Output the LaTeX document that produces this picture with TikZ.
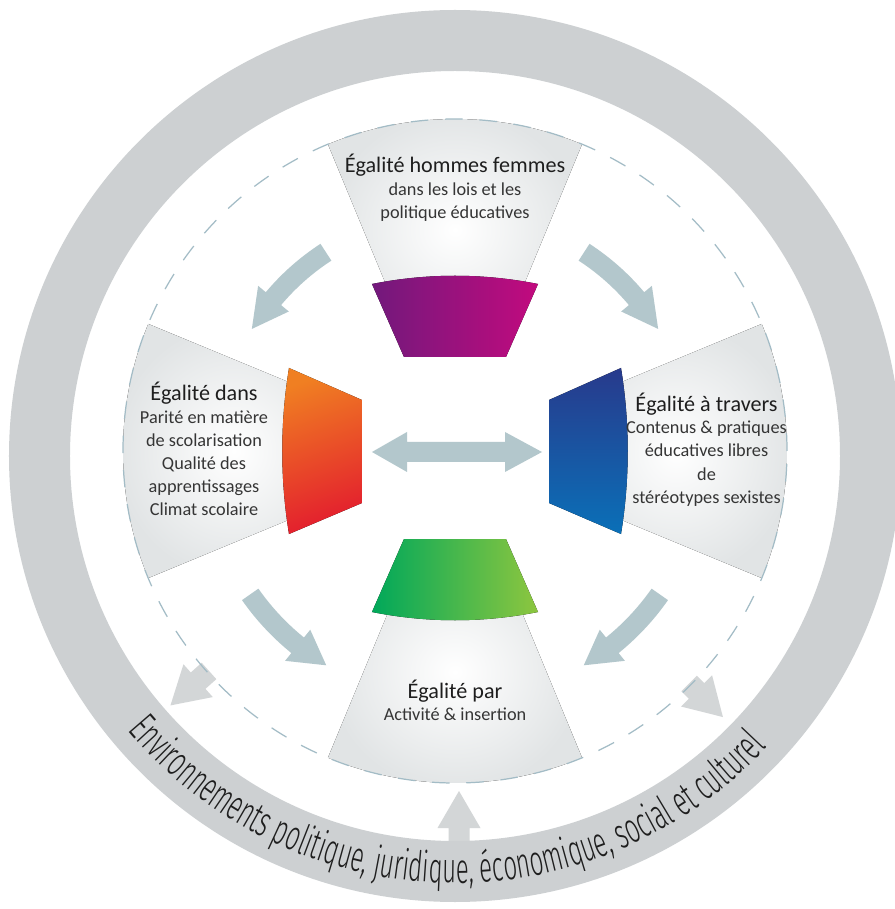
\documentclass[tikz,border=0pt]{standalone}
\usepackage{fontspec}
\setmainfont{Carlito}
\newfontfamily\ringfont[FakeStretch=0.57]{Fira Sans Light}
\usetikzlibrary{positioning,decorations.text}
\definecolor{ringgray}{HTML}{CDD0D2}
\definecolor{sectgray}{HTML}{E1E4E5}
\definecolor{dashblue}{HTML}{A3BCC6}
\definecolor{flowblue}{HTML}{B3C7CC}
\definecolor{envgray}{HTML}{D3D6D7}
\definecolor{purpleA}{HTML}{72197C}
\definecolor{purpleB}{HTML}{C20A7E}
\definecolor{orangeA}{HTML}{F07F22}
\definecolor{redA}{HTML}{E31E2E}
\definecolor{blueA}{HTML}{283A8C}
\definecolor{blueM}{HTML}{0052A3}
\definecolor{blueB}{HTML}{0A70B8}
\definecolor{greenA}{HTML}{00A85A}
\definecolor{greenB}{HTML}{8DC63F}
\definecolor{textdark}{HTML}{1E1E1E}
\tikzset{
  ringband/.style = {fill=ringgray, even odd rule},
  sectbox/.style  = {inner color=white, outer color=sectgray},
  dashring/.style = {draw=dashblue, line width=0.7pt, dash pattern=on 10pt off 9.5pt},
  flowarr/.style  = {fill=flowblue},
  envarr/.style   = {fill=envgray},
  titlelab/.style = {font=\fontsize{12.6}{15}\selectfont, text=textdark,
                     inner sep=0pt, anchor=base},
  bodylab/.style  = {font=\fontsize{10.4}{13.2}\selectfont, text=textdark!90,
                     inner sep=0pt, align=center},
}
% curved arrow round the centre: radius, tail angle, head angle, tip angle
\newcommand{\bentarrow}[4]{%
  \fill[flowarr] (#2:{#1+10}) arc[start angle=#2, end angle=#3, radius={#1+10}]
    -- (#3:{#1+20}) -- (#4:#1) -- (#3:{#1-20}) -- (#3:{#1-10})
    arc[start angle=#3, end angle=#2, radius={#1-10}] -- cycle;}
% straight arrow pointing out to the ring: angle, shaft start, head base, tip
\newcommand{\envarrow}[4]{%
  \fill[envarr, rotate=#1] (#2,-11) -- (#3,-11) -- (#3,-22) -- (#4,0)
    -- (#3,22) -- (#3,11) -- (#2,11) -- cycle;}

\begin{document}
\begin{tikzpicture}[x=0.02cm, y=0.02cm]
\useasboundingbox[fill=white] (-455,-458) rectangle (440,451);

% arrows from and to the environment
\fill[envarr] (-6.5,-395) -- (-6.5,-377) -- (-17.5,-377) -- (4,-340)
  -- (25.5,-377) -- (14.5,-377) -- (14.5,-395) -- cycle;
\envarrow{221.8}{330}{344.6}{381.7}
\envarrow{315.2}{330}{340.5}{377.6}

% outer ring
\fill[ringband] (0,-5) circle (446) (0,-5) circle (385);

% grey sectors
\fill[sectbox] (67.5:110) -- (67.5:332) arc[start angle=67.5, end angle=112.5, radius=332] -- (112.5:110) -- cycle;
\fill[sectbox] (157.5:110) -- (157.5:332) arc[start angle=157.5, end angle=202.5, radius=332] -- (202.5:110) -- cycle;
\fill[sectbox] (-22.5:110) -- (-22.5:332) arc[start angle=-22.5, end angle=22.5, radius=332] -- (22.5:110) -- cycle;
\fill[sectbox] (247.5:110) -- (247.5:332) arc[start angle=247.5, end angle=292.5, radius=332] -- (292.5:110) -- cycle;

\draw[dashring] (0,0) circle (332);

% coloured blocks
\fill[left color=purpleA, right color=purpleB]
  (-51,94) -- (-83,167) .. controls (-28,178) and (28,178) .. (83,167) -- (51,94) -- cycle;
\fill[top color=orangeA, bottom color=redA, shading angle=20]
  (-93,51) -- (-166,83) .. controls (-175,28) and (-175,-28) .. (-166,-83) -- (-93,-52) -- cycle;
\fill[top color=blueA, middle color=blueM, bottom color=blueB]
  (94,51) -- (166,83) .. controls (175,28) and (175,-28) .. (166,-83) -- (94,-52) -- cycle;
\fill[left color=greenA, right color=greenB]
  (-51,-88) -- (51,-88) -- (83,-161) .. controls (28,-172) and (-28,-172) .. (-83,-161) -- cycle;

% flow arrows
\bentarrow{237}{123}{140}{149}
\bentarrow{237}{57}{40}{31}
\bentarrow{250}{215}{231}{239}
\bentarrow{250}{325}{309}{301}
\fill[flowarr] (-83,-1) -- (-48,19) -- (-48,9) -- (50,9) -- (50,19) -- (87,-1)
  -- (50,-21) -- (50,-11) -- (-48,-11) -- (-48,-21) -- cycle;

% texts
\node[titlelab] (toptitle) at (0,278) {Égalité hommes femmes};
\node[bodylab, below=5.2pt of toptitle.base] (topbody) {dans les lois et les\\politique éducatives};

\node[titlelab] (lefttitle) at (-251,50) {Égalité dans};
\node[bodylab, below=5.2pt of lefttitle.base] (leftbody)
  {Parité en matière\\de scolarisation\\Qualité des\\apprentissages\\Climat scolaire};

\node[titlelab] (righttitle) at (251.5,39.5) {Égalité à travers};
\node[bodylab, below=5.2pt of righttitle.base] (rightbody)
  {Contenus \& pratiques\\éducatives libres\\de\\stéréotypes sexistes};

\node[titlelab] (bottitle) at (0,-247.5) {Égalité par};
\node[bodylab, below=5.2pt of bottitle.base] (botbody) {Activité \& insertion};

% ring label
\path[decorate, decoration={text along path, text align=center, text color=textdark,
  text={|\ringfont\fontsize{24}{26}\selectfont|Environnements politique, juridique, économique, social et culturel}}]
  (0,-5) ++(198.5:427) arc[start angle=198.5, end angle=338.5, radius=427];
\end{tikzpicture}
\end{document}
